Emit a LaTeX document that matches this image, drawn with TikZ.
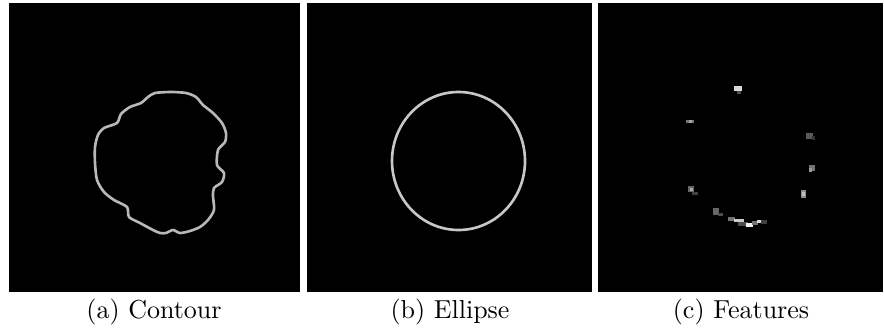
\documentclass[tikz,border=0pt]{standalone}
\begin{document}
\begin{tikzpicture}[x=0.4pt,y=-0.4pt,
  panel/.style={fill=black,draw=none},
  curve/.style={draw=black!28,line width=1.05pt,line join=round},
  caption/.style={font=\fontsize{10.4}{12}\selectfont,inner sep=0pt,anchor=base}]
\useasboundingbox (0,0) rectangle (884,333);
\fill[white] (0,0) rectangle (884,333);
% panels
\path[panel] (9,3) rectangle (300,292);
\path[panel] (307,3) rectangle (592,292);
\path[panel] (598,3) rectangle (883,292);
% (a) contour
\draw[curve] plot[smooth cycle,tension=0.45] coordinates {
 (155,93) (171,92) (186,93) (196,97) (203,105) (213,113) (222,123) (226,133)
 (225,142) (218,150) (217,165) (224,173) (222,182) (214,188) (213,196) (214,210)
 (208,220) (200,227) (190,231) (180,233) (173,230) (166,233) (160,233) (153,230)
 (140,223) (129,217) (127,207) (114,200) (104,192) (97,180) (95,163) (95,147)
 (98,135) (104,128) (117,123) (121,114) (130,107) (141,103) (148,97)};
% (b) ellipse
\draw[curve,draw=black!22] (458.5,161) ellipse [x radius=66.5, y radius=69];
% (c) features
\fill[black!15] (734,86) rectangle (742,91);
\fill[black!70] (737,91) rectangle (741,94);
\fill[black!55] (686,120) rectangle (694,123);
\fill[black!35] (689,120) rectangle (692,123);
\fill[black!65] (806,133) rectangle (813,139);
\fill[black!80] (812,136) rectangle (815,140);
\fill[black!55] (809,165) rectangle (815,171);
\fill[black!40] (809,168) rectangle (812,172);
\fill[black!45] (801,190) rectangle (806,198);
\fill[black!25] (802,192) rectangle (805,196);
\fill[black!60] (688,186) rectangle (694,192);
\fill[black!35] (690,188) rectangle (693,191);
\fill[black!75] (692,192) rectangle (698,195);
\fill[black!60] (713,208) rectangle (719,215);
\fill[black!70] (718,213) rectangle (723,216);
\fill[black!55] (728,217) rectangle (735,221);
\fill[black!20] (734,219) rectangle (744,222);
\fill[black!70] (738,222) rectangle (748,226);
\fill[black!5] (746,223) rectangle (753,227);
\fill[black!55] (752,221) rectangle (758,225);
\fill[black!15] (757,220) rectangle (764,223);
\fill[black!75] (761,220) rectangle (767,224);
% captions
\node[caption] (capa) at (154,318) {(a)\ Contour};
\node[caption] (capb) at (450,318) {(b)\ Ellipse};
\node[caption] (capc) at (741,318) {(c)\ Features};
\end{tikzpicture}
\end{document}
